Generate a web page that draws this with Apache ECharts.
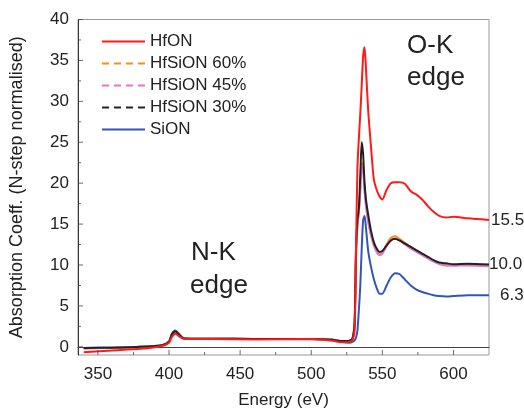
<!DOCTYPE html>
<html>
<head>
<meta charset="utf-8">
<script src="https://cdn.jsdelivr.net/npm/echarts@6/dist/echarts.min.js"></script>
<style>html,body{margin:0;padding:0;background:#fff;}#c{width:524px;height:414px;}</style>
</head>
<body>
<div id="c"></div>
<script>
// ---- data ----
const energy = [340, 360, 380, 395, 400, 402, 404.5, 407, 410, 415, 430, 460, 500, 515, 522, 527, 529, 530.5, 531.5, 532.5, 533.5, 534.5, 535.5, 536.5, 537.5, 538.5, 540, 542, 544, 546, 548, 550, 553, 556, 559, 562, 566, 570, 574, 578, 582, 586, 590, 595, 600, 610, 625];
const hfon = [-0.65, -0.45, -0.25, 0.1, 0.5, 1.2, 1.6, 1.3, 1.0, 0.95, 0.95, 0.9, 0.95, 0.75, 0.55, 0.6, 0.8, 2, 12, 22, 25.5, 28.5, 32, 35.5, 36.6, 34, 29, 24.5, 20.5, 19.2, 18.4, 18.0, 19.2, 20.0, 20.1, 20.1, 19.9, 19.0, 18.6, 18.0, 17.2, 16.5, 16.0, 15.8, 15.9, 15.7, 15.5];
const hfsion60 = [-0.2, -0.1, 0.0, 0.2, 0.6, 1.4, 1.85, 1.5, 1.05, 1.0, 1.0, 0.95, 0.95, 0.85, 0.7, 0.75, 1.0, 3, 11.5, 15, 16.5, 19.5, 22.5, 22, 19.5, 17.5, 15.5, 13.8, 12.5, 11.7, 11.3, 11.5, 12.5, 13.3, 13.5, 13.2, 12.7, 12.2, 11.8, 11.3, 10.9, 10.5, 10.2, 10.0, 10.0, 10.1, 9.9];
const hfsion45 = [-0.2, -0.1, 0.0, 0.2, 0.6, 1.4, 1.85, 1.5, 1.05, 1.0, 1.0, 0.95, 0.95, 0.85, 0.7, 0.75, 1.0, 3, 11, 14.8, 16.5, 19, 22, 21.5, 19, 17.2, 15.3, 13.6, 12.4, 11.6, 11.2, 11.4, 12.3, 13.0, 13.2, 13.0, 12.5, 12.0, 11.6, 11.2, 10.8, 10.4, 10.1, 9.9, 9.9, 9.95, 9.85];
const hfsion30 = [-0.15, -0.1, 0.0, 0.2, 0.6, 1.5, 1.9, 1.5, 1.05, 1.0, 1.0, 0.95, 0.95, 0.85, 0.7, 0.75, 1.0, 3, 12, 15.5, 17, 21, 25, 23.5, 20, 18, 16.2, 14.2, 12.8, 12.0, 11.6, 11.7, 12.4, 13.0, 13.2, 13.0, 12.6, 12.2, 11.8, 11.4, 11.0, 10.6, 10.3, 10.2, 10.1, 10.15, 10.05];
const sion = [-0.15, -0.1, 0.0, 0.2, 0.7, 1.6, 2.0, 1.6, 1.1, 1.0, 1.0, 0.95, 0.95, 0.85, 0.6, 0.5, 0.6, 0.8, 1.1, 2.0, 4.5, 7.5, 12, 15.5, 16.0, 14.5, 11.8, 9.8, 8.3, 7.2, 6.5, 6.5, 7.5, 8.5, 9.0, 8.9, 8.2, 7.5, 7.0, 6.7, 6.5, 6.3, 6.2, 6.15, 6.2, 6.3, 6.3];
const seriesNames = ['HfON', 'HfSiON 60%', 'HfSiON 45%', 'HfSiON 30%', 'SiON'];
const endValues = ['15.5', '', '', '10.0', '6.3'];
const xMajorTicks = [350, 400, 450, 500, 550, 600];
const xMinorTicks = [375, 425, 475, 525, 575];
const yMajorTicks = [0, 5, 10, 15, 20, 25, 30, 35, 40];
const yMinorTicks = [2.5, 7.5, 12.5, 17.5, 22.5, 27.5, 32.5, 37.5];
const annotations = [['O-K', 'edge'], ['N-K', 'edge']];

// ---- chart ----
const FONT = '"Liberation Sans", Arial, sans-serif';
const X_MIN = 336, X_MAX = 625, Y_MIN = -1, Y_MAX = 40;
const pairs = arr => energy.map((e, i) => [e, arr[i]]);
const colors = ['#ff1a1a', '#ff8c1a', '#dd77cc', '#222222', '#3355b5'];
const datasets = [hfon, hfsion60, hfsion45, hfsion30, sion];
const drawOrder = [4, 1, 2, 3, 0];
const ends = {0: 2, 3: 0, 4: 11};

const chart = echarts.init(document.getElementById('c'), null, {renderer: 'canvas'});
const series = drawOrder.map(k => ({
  name: seriesNames[k],
  type: 'line',
  data: pairs(datasets[k]),
  symbol: 'none',
  smooth: 0.25,
  lineStyle: {color: colors[k], width: 2},
  itemStyle: {color: colors[k]},
  z: 2 + drawOrder.indexOf(k),
  endLabel: endValues[k] ? {
    show: true, formatter: endValues[k], distance: ends[k],
    fontFamily: FONT, fontSize: 17, color: '#222'
  } : {show: false}
}));

// tick marks drawn as tiny rect symbols placed through the axes' scales
function tickSeries(data, size, offset) {
  return {
    type: 'scatter', data: data, symbol: 'rect', symbolSize: size, symbolOffset: offset,
    itemStyle: {color: '#444'}, silent: true, clip: false, z: 10,
    emphasis: {disabled: true}, tooltip: {show: false}, legendHoverLink: false
  };
}
series.push(tickSeries(xMajorTicks.map(v => [v, Y_MIN]), [1, 5], [0, -2.5]));
series.push(tickSeries(xMinorTicks.map(v => [v, Y_MIN]), [1, 3], [0, -1.5]));
series.push(tickSeries(yMajorTicks.map(v => [X_MIN, v]), [5, 1], [2.5, 0]));
series.push(tickSeries(yMinorTicks.map(v => [X_MIN, v]), [3, 1], [1.5, 0]));

chart.setOption({
  animation: false,
  backgroundColor: '#fff',
  grid: {left: 76, right: 35, top: 19.5, bottom: 58.5, show: true, borderColor: '#999', borderWidth: 1},
  legend: {
    orient: 'vertical', left: 96, top: 28,
    itemWidth: 43, itemHeight: 14, itemGap: 5,
    textStyle: {fontFamily: FONT, fontSize: 17, color: '#222'},
    data: seriesNames.map((n, k) => ({
      name: n,
      itemStyle: {color: 'rgba(0,0,0,0)', borderWidth: 0, opacity: 0},
      lineStyle: {color: colors[k], width: 2, type: (k >= 1 && k <= 3) ? [7, 5] : 'solid'}
    }))
  },
  xAxis: {
    type: 'value', min: X_MIN, max: X_MAX, splitLine: {show: false},
    name: 'Energy (eV)', nameLocation: 'middle', nameGap: 37,
    nameTextStyle: {fontFamily: FONT, fontSize: 17, color: '#222'},
    axisLine: {lineStyle: {color: '#444', width: 1}},
    axisTick: {show: false},
    axisLabel: {customValues: xMajorTicks, fontFamily: FONT, fontSize: 17, color: '#222', margin: 11}
  },
  yAxis: {
    type: 'value', min: Y_MIN, max: Y_MAX, splitLine: {show: false},
    name: 'Absorption Coeff. (N-step normalised)', nameLocation: 'middle', nameGap: 52,
    nameTextStyle: {fontFamily: FONT, fontSize: 18, color: '#222'},
    axisLine: {show: true, lineStyle: {color: '#333', width: 1}},
    axisTick: {show: false},
    axisLabel: {customValues: yMajorTicks, fontFamily: FONT, fontSize: 17, color: '#222', margin: 9}
  },
  graphic: [
    {type: 'text', left: 407, top: 33, style: {text: annotations[0][0], font: '26px ' + FONT, fill: '#222'}},
    {type: 'text', left: 407, top: 65, style: {text: annotations[0][1], font: '26px ' + FONT, fill: '#222'}},
    {type: 'text', left: 191, top: 240, style: {text: annotations[1][0], font: '26px ' + FONT, fill: '#222'}},
    {type: 'text', left: 190, top: 273, style: {text: annotations[1][1], font: '26px ' + FONT, fill: '#222'}}
  ],
  series: series
});
</script>
</body>
</html>
